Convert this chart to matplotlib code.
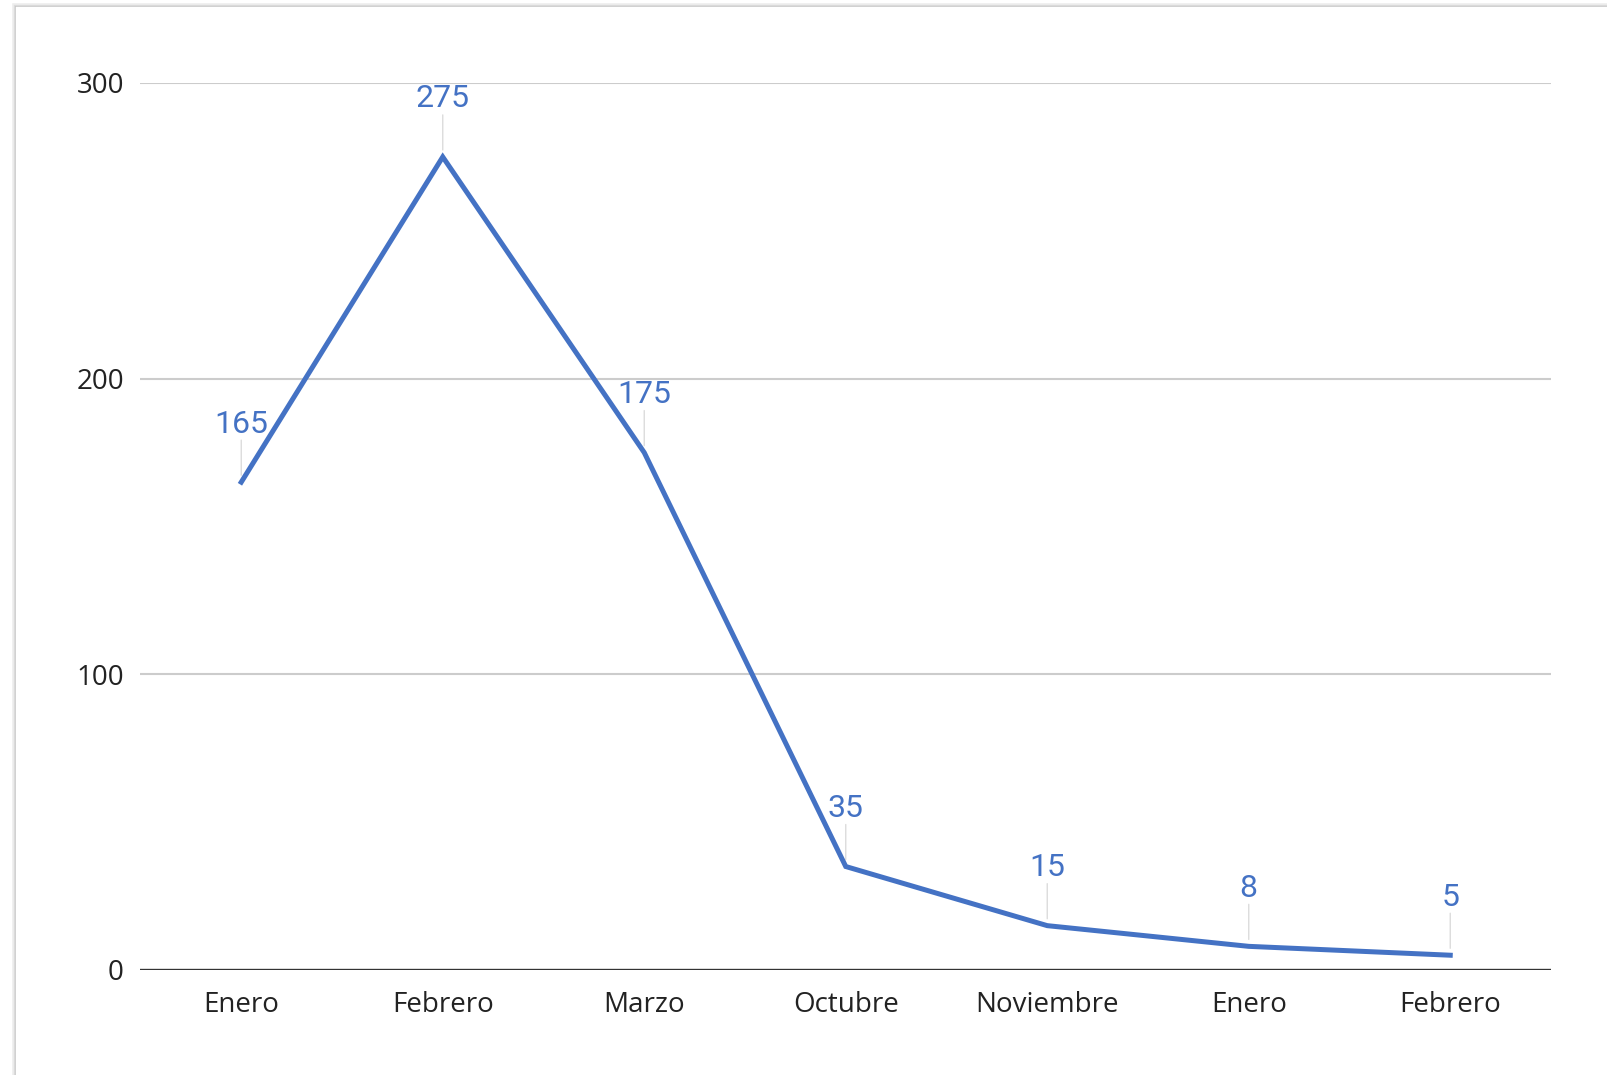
import matplotlib
matplotlib.use("Agg")
import matplotlib.pyplot as plt
from matplotlib.patches import Rectangle

categories = ["Enero", "Febrero", "Marzo", "Octubre", "Noviembre", "Enero", "Febrero"]
values = [165, 275, 175, 35, 15, 8, 5]
yticks = [0, 100, 200, 300]

W, H = 1608, 1075
fig = plt.figure(figsize=(W / 100, H / 100), dpi=100)
fig.patch.set_facecolor("white")

# card shadow/border
for off, col in [(0, "#c8c8c8"), (1, "#dddddd"), (2, "#eeeeee")]:
    fig.add_artist(Rectangle(((15 - off) / W, 0 - 0.01), 1.1, (H - 6 + off) / H + 0.01,
                             transform=fig.transFigure, facecolor="none",
                             edgecolor=col, lw=1.2, zorder=0))

ax = fig.add_axes([140.5 / W, 105 / H, (1551 - 140.5) / W, (970 - 83) / H])
x = list(range(len(categories)))
blue = "#4472C4"
ax.plot(x, values, color=blue, lw=3.6, solid_joinstyle="miter", zorder=3, clip_on=False)

for xi, v in zip(x, values):
    # leader line
    ax.annotate("", xy=(xi, v), xytext=(0, 42), textcoords="offset pixels",
                arrowprops=dict(arrowstyle="-", color="#dcdcdc", lw=1.0,
                                shrinkA=0, shrinkB=5), zorder=2)
    ax.annotate(str(v), xy=(xi, v), xytext=(0, 58), textcoords="offset pixels",
                ha="center", va="center", color=blue, fontsize=23,
                fontfamily="Roboto", zorder=4)

ax.set_xlim(-0.5, 6.5)
ax.set_ylim(0, 300)
ax.set_yticks(yticks)
ax.set_xticks(x)
ax.set_xticklabels(categories)
for s in ax.spines.values():
    s.set_visible(False)
ax.tick_params(axis="both", length=0, labelsize=20, labelcolor="#222222")
ax.tick_params(axis="y", pad=12)
ax.tick_params(axis="x", pad=15)
for lab in ax.get_xticklabels() + ax.get_yticklabels():
    lab.set_fontfamily("Open Sans")
ax.grid(axis="y", color="#cccccc", lw=1.5)
ax.set_axisbelow(True)
ax.axhline(0, color="#333333", lw=2.4, zorder=2)

fig.savefig("out.png", dpi=100)
